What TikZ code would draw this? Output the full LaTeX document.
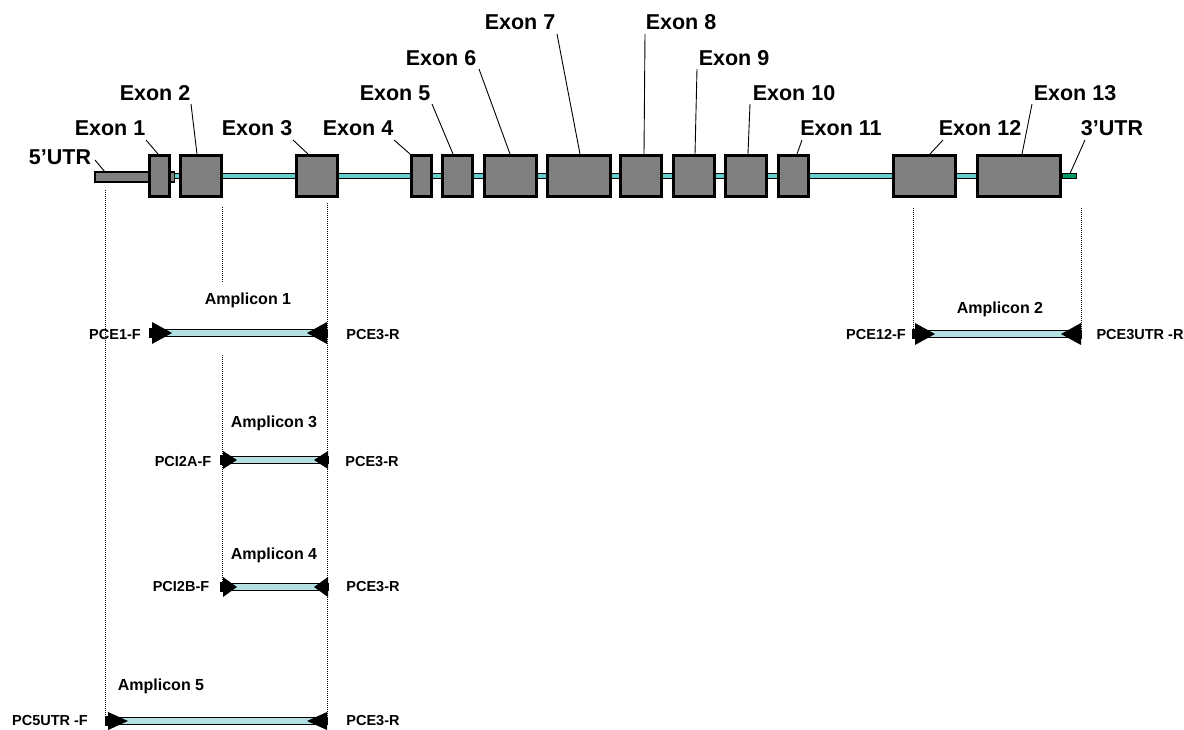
\documentclass[tikz,border=0pt]{standalone}
\usepackage{fontspec}
\setmainfont{Liberation Sans}
\usetikzlibrary{calc}
\definecolor{exongray}{RGB}{128,128,128}
\definecolor{introncol}{RGB}{102,204,204}
\definecolor{utrgreen}{RGB}{0,153,102}
\definecolor{ampcol}{RGB}{180,224,228}
\tikzset{
  exon/.style={draw=black, line width=2.6pt, fill=exongray, inner sep=0pt, minimum height=41.4pt},
  exlab/.style={font=\bfseries\fontsize{21.5}{24}\selectfont, inner sep=0pt},
  leader/.style={line width=0.9pt},
  guide/.style={line width=0.8pt, dash pattern=on 1pt off 1pt},
  amplab/.style={font=\bfseries\fontsize{16}{18}\selectfont, inner sep=0pt},
  primlab/.style={font=\bfseries\fontsize{14.5}{16}\selectfont, inner sep=0pt},
  ampbar/.style={draw=black, line width=1.5pt, fill=ampcol},
}
\newcommand{\exonbox}[3]{%
  \pgfmathsetmacro\ewidth{#3-#2-2.6}%
  \node[exon, minimum width=\ewidth pt] (#1) at ({(#2+#3)/2},176) {};%
}
\newcommand{\amplbar}[6]{%
  \coordinate (#1l) at (#3,#2);
  \coordinate (#1r) at (#4,#2);
  \draw[ampbar] ($(#1l)+(0,-3.5)$) rectangle ($(#1r)+(0,3.5)$);
  \fill ($(#1l)+(-3.5,-5)$) rectangle ($(#1l)+(0,5)$);
  \fill ($(#1l)+(0,-#5/2)$) -- ($(#1l)+(#6,0)$) -- ($(#1l)+(0,#5/2)$) -- cycle;
  \fill ($(#1r)+(0,-#5/2)$) -- ($(#1r)+(-#6,0)$) -- ($(#1r)+(0,#5/2)$) -- cycle;
}
\begin{document}
\begin{tikzpicture}[x=1pt, y=-1pt]
\useasboundingbox[fill=white] (0,0) rectangle (1184,730);

% guides (dotted)
\coordinate (g1t) at (105,190); \coordinate (g1b) at (105,722);
\coordinate (g2t) at (222,207); \coordinate (g2m) at (222,282);
\coordinate (g2n) at (222,355); \coordinate (g2b) at (222,590);
\coordinate (g3t) at (327,203); \coordinate (g3b) at (327,722);
\coordinate (g4t) at (913,208); \coordinate (g4b) at (913,340);
\coordinate (g5t) at (1081,208); \coordinate (g5b) at (1081,340);
\draw[guide] (g1t) -- (g1b);
\draw[guide] (g2t) -- (g2m);
\draw[guide] (g2n) -- (g2b);
\draw[guide] (g3t) -- (g3b);
\draw[guide] (g4t) -- (g4b);
\draw[guide] (g5t) -- (g5b);

% backbone
\draw[line width=0.9pt, fill=introncol] (171,173.2) rectangle (1062,178.8);
\draw[line width=0.9pt, fill=utrgreen] (1062,173.2) rectangle (1076,178.8);
\draw[line width=1.2pt, fill=exongray] (95,172) rectangle (150,182);
\draw[line width=1.2pt, fill=exongray] (168,172) rectangle (174.5,182);

% exons
\exonbox{e1}{148}{171}
\exonbox{e2}{179}{223}
\exonbox{e3}{295}{339}
\exonbox{e4}{410}{433}
\exonbox{e5}{441}{474}
\exonbox{e6}{483}{538}
\exonbox{e7}{546}{612}
\exonbox{e8}{619}{663}
\exonbox{e9}{672}{716}
\exonbox{e10}{724}{768}
\exonbox{e11}{777}{810}
\exonbox{e12}{892}{957}
\exonbox{e13}{976}{1062}

% exon labels
\node[exlab] (l5) at (60,157) {5’UTR};
\node[exlab] (l1) at (110,128) {Exon 1};
\node[exlab] (l2) at (155,93) {Exon 2};
\node[exlab] (l3) at (257,128) {Exon 3};
\node[exlab] (l4) at (358,128) {Exon 4};
\node[exlab] (lx5) at (395,93) {Exon 5};
\node[exlab] (l6) at (441,58) {Exon 6};
\node[exlab] (l7) at (520,22) {Exon 7};
\node[exlab] (l8) at (681,22) {Exon 8};
\node[exlab] (l9) at (734,58) {Exon 9};
\node[exlab] (l10) at (794,93) {Exon 10};
\node[exlab] (l11) at (841,128) {Exon 11};
\node[exlab] (l12) at (980,128) {Exon 12};
\node[exlab] (l13) at (1075,93) {Exon 13};
\node[exlab] (l3u) at (1112,128) {3’UTR};

% leader lines
\coordinate (s5) at (95,160);   \coordinate (t5) at (105,172);
\coordinate (s3u) at (1085,140); \coordinate (t3u) at (1070,173.5);
\draw[leader] (s5) -- (t5);
\draw[leader] (s3u) -- (t3u);
\draw[leader] (146,140) -- ($(e1.north west)+(10,0)$);
\draw[leader] (191,104) -- ($(e2.north west)+(18,0)$);
\draw[leader] (293,140) -- ($(e3.north west)+(13,0)$);
\draw[leader] (394,140) -- ($(e4.north west)+(0,0)$);
\draw[leader] (432,104) -- ($(e5.north west)+(12,0)$);
\draw[leader] (479,69) -- ($(e6.north west)+(27,0)$);
\draw[leader] (557,34) -- ($(e7.north west)+(34,0)$);
\draw[leader] (645,34) -- ($(e8.north west)+(25,0)$);
\draw[leader] (697,69) -- ($(e9.north west)+(23,0)$);
\draw[leader] (750,104) -- ($(e10.north west)+(24,0)$);
\draw[leader] (802,140) -- ($(e11.north west)+(20,0)$);
\draw[leader] (943,140) -- ($(e12.north west)+(38,0)$);
\draw[leader] (1032,104) -- ($(e13.north west)+(46,0)$);

% amplicons
\amplbar{a1}{333}{152}{327}{22}{20}
\amplbar{a2}{334}{915}{1081}{22}{20}
\amplbar{a3}{460}{223}{328}{18}{14}
\amplbar{a4}{587}{223}{328}{20}{14}
\amplbar{a5}{721}{108}{327}{18}{20}

\node[amplab] (am1) at (248,300) {Amplicon 1};
\node[amplab] (am2) at (1000,309) {Amplicon 2};
\node[amplab] (am3) at (274,423) {Amplicon 3};
\node[amplab] (am4) at (274,555) {Amplicon 4};
\node[amplab] (am5) at (161,686) {Amplicon 5};

\node[primlab] (p1f) at (115,335) {PCE1-F};
\node[primlab] (p1r) at (373,335) {PCE3-R};
\node[primlab] (p2f) at (876,335) {PCE12-F};
\node[primlab] (p2r) at (1140,335) {PCE3UTR -R};
\node[primlab] (p3f) at (183,462) {PCI2A-F};
\node[primlab] (p3r) at (372,462) {PCE3-R};
\node[primlab] (p4f) at (181,587) {PCI2B-F};
\node[primlab] (p4r) at (373,587) {PCE3-R};
\node[primlab] (p5f) at (50,721) {PC5UTR -F};
\node[primlab] (p5r) at (373,721) {PCE3-R};
\end{tikzpicture}
\end{document}
